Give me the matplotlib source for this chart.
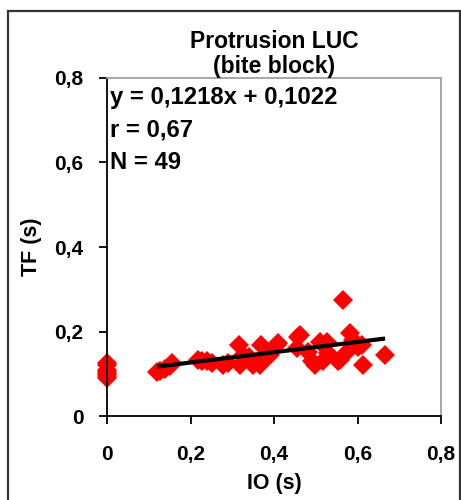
import matplotlib
matplotlib.use("Agg")
import matplotlib.pyplot as plt
from matplotlib.patches import Rectangle
import numpy as np

plt.rcParams['font.family'] = ['Liberation Sans', 'DejaVu Sans']

title = "Protrusion LUC\n(bite block)"
xlabel = "IO (s)"
ylabel = "TF (s)"
x_ticks = [0, 0.2, 0.4, 0.6, 0.8]
y_ticks = [0, 0.2, 0.4, 0.6, 0.8]
x_ticklabels = ["0", "0,2", "0,4", "0,6", "0,8"]
y_ticklabels = ["0", "0,2", "0,4", "0,6", "0,8"]
slope = 0.1218
intercept = 0.1022
stats_text = ["y = 0,1218x + 0,1022", "r = 0,67", "N = 49"]

io = [0, 0, 0, 0, 0, 0, 0,
      0.12, 0.127, 0.14, 0.151, 0.155,
      0.219, 0.227, 0.239, 0.251, 0.279, 0.29,
      0.315, 0.319, 0.325, 0.35, 0.34,
      0.366, 0.37, 0.374, 0.39, 0.406, 0.41,
      0.458, 0.462, 0.454, 0.481, 0.49, 0.498,
      0.51, 0.518, 0.526, 0.554, 0.558, 0.566,
      0.582, 0.578, 0.602, 0.61, 0.614, 0.666,
      0.53, 0.59]
tf = [0.09, 0.095, 0.10, 0.105, 0.11, 0.12, 0.125,
      0.105, 0.107, 0.112, 0.118, 0.125,
      0.133, 0.129, 0.129, 0.125, 0.121, 0.125,
      0.168, 0.121, 0.145, 0.121, 0.14,
      0.121, 0.168, 0.133, 0.145, 0.168, 0.172,
      0.188, 0.192, 0.160, 0.152, 0.129, 0.121,
      0.176, 0.129, 0.176, 0.129, 0.133, 0.275,
      0.196, 0.155, 0.164, 0.168, 0.121, 0.144,
      0.15, 0.18]

io = np.array(io)
tf = np.array(tf)

fig = plt.figure(figsize=(4.61, 5.0), dpi=100)
ax = fig.add_axes([107/461, 84/500, 334/461, 338/500])

ax.plot(io, tf, linestyle='none', marker='D', markersize=10.5,
        color='#ff0000', markeredgewidth=0, zorder=2, clip_on=False)

xl = np.array([io[io > 0].min(), io.max()])
ax.plot(xl, slope * xl + intercept, color='black', lw=3, zorder=3,
        solid_capstyle='butt')

ax.set_xlim(0, 0.8)
ax.set_ylim(0, 0.8)
ax.set_xticks(x_ticks)
ax.set_xticklabels(x_ticklabels)
ax.set_yticks(y_ticks)
ax.set_yticklabels(y_ticklabels)
ax.tick_params(axis='both', direction='out', length=6, width=1.3,
               labelsize=15)
ax.tick_params(axis='y', pad=11)
ax.tick_params(axis='x', pad=15)
for lab in ax.get_xticklabels() + ax.get_yticklabels():
    lab.set_fontweight('bold')

for s in ['left', 'bottom']:
    ax.spines[s].set_linewidth(1.3)
    ax.spines[s].set_color('black')
for s in ['right', 'top']:
    ax.spines[s].set_linewidth(1.3)
    ax.spines[s].set_color('#a0a0a0')

ax.set_title(title, fontsize=16.5, fontweight='bold', pad=2, linespacing=1.1)
ax.set_xlabel(xlabel, fontsize=15.5, fontweight='bold', labelpad=6)
ax.set_ylabel(ylabel, fontsize=15.5, fontweight='bold', labelpad=9)

for i, t in enumerate(stats_text):
    ax.text(0.008, 0.943 - i * 0.097, t, transform=ax.transAxes,
            fontsize=17.2, fontweight='bold', va='center', ha='left')

fig.patches.append(Rectangle((8/461, -0.1), 452/461, 1.1 - 11/500,
                             transform=fig.transFigure, fill=False,
                             edgecolor='#333333', lw=1.6))

fig.savefig("out.png", dpi=100)
